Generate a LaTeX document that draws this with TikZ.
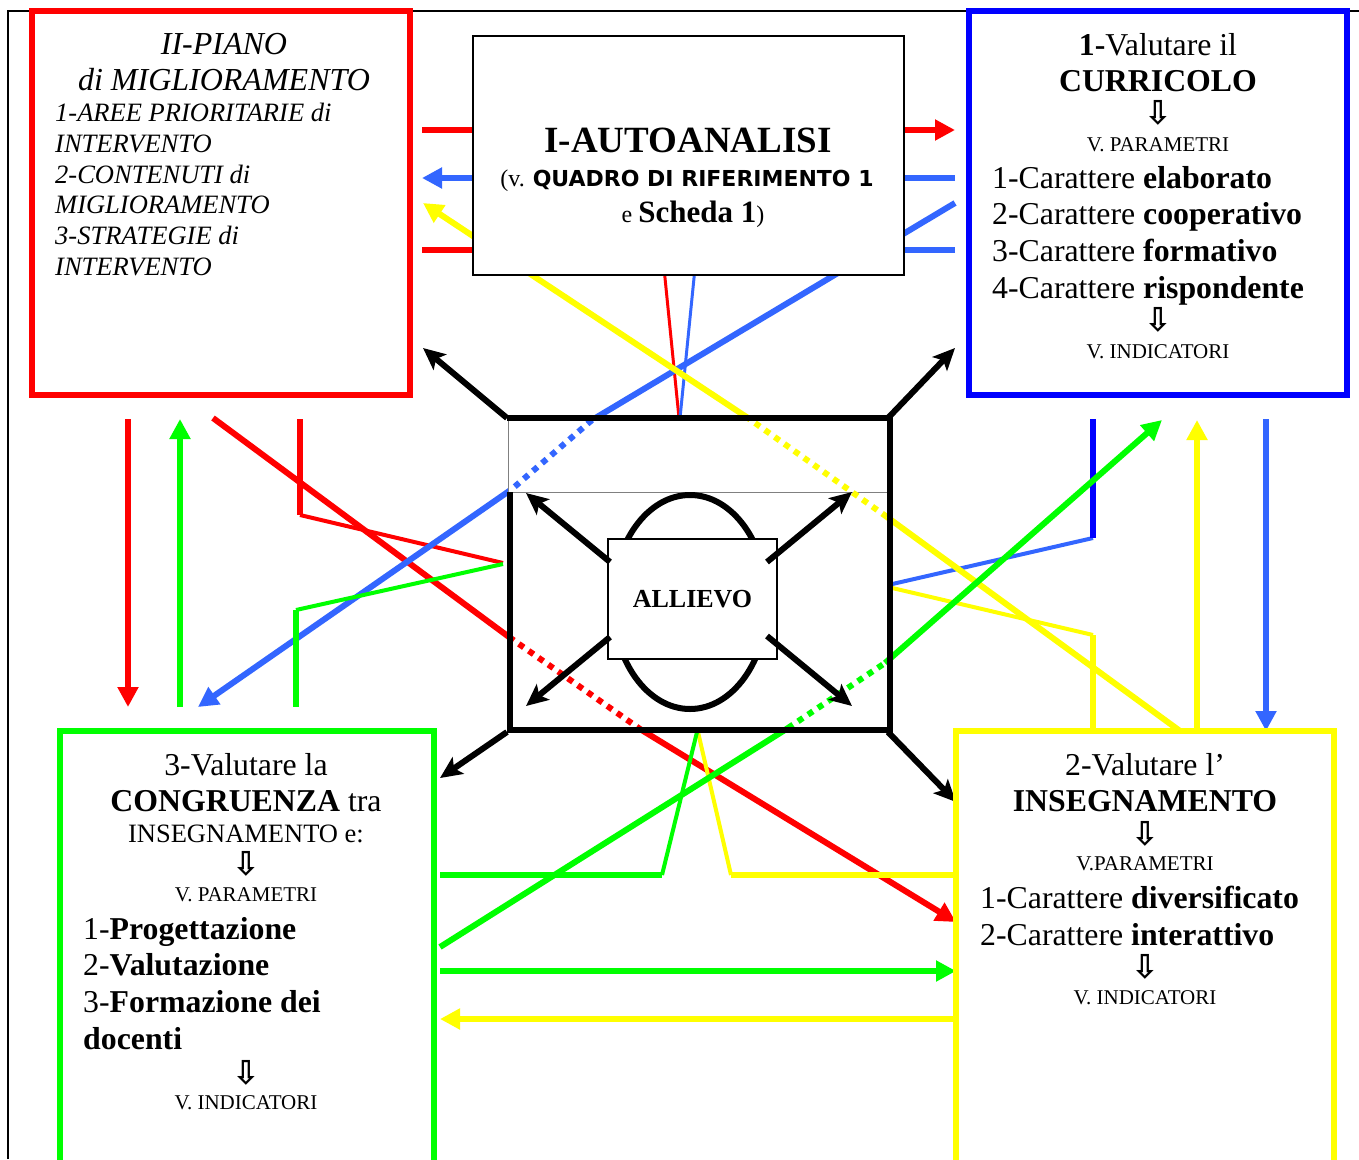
\documentclass[tikz,border=0pt]{standalone}
\usepackage{fontspec}
\setmainfont{Liberation Serif}
\newfontfamily\dejavu{DejaVu Sans}
\usetikzlibrary{arrows.meta}
\definecolor{redline}{RGB}{255,0,0}
\definecolor{greenline}{RGB}{0,255,0}
\definecolor{yellowline}{RGB}{255,255,0}
\definecolor{blueline}{RGB}{51,102,255}
\definecolor{bluebox}{RGB}{0,0,255}

\begin{document}
\begin{tikzpicture}
        [x=1pt, y=-1pt,
         box_style/.style={draw, line width=6pt, inner sep=0pt},
         thick_line/.style={line width=6pt},
         thin_line/.style={line width=4pt},
         hair_line/.style={line width=3pt},
         dot_line/.style={line width=6pt, dash pattern=on 6pt off 6pt},
         tip_col/.style={-{Triangle[length=20pt,width=20pt]}},
         tip_blk/.style={-{Stealth[length=22pt,width=20pt,inset=5pt]}},
         big_text/.style={inner sep=0pt, font=\fontsize{31.8}{36.7}\selectfont},
         small_text/.style={inner sep=0pt, font=\fontsize{21}{25}\selectfont},
         arrow_text/.style={inner sep=0pt, font=\dejavu\bfseries\fontsize{33}{36}\selectfont}]
            \useasboundingbox (0,0) rectangle (1359,1159);
            \clip (0,0) rectangle (1359,1159);
            \draw[line width=1.2pt] (8,1159) -- (8,11) -- (1359,11);

            % end points of the connectors
            \coordinate (ra1) at (422,130);  \coordinate (ra2) at (955,130);
            \coordinate (rb1) at (422,250);  \coordinate (rb2) at (520,250);
            \coordinate (rc1) at (664,268);  \coordinate (rc2) at (679,418);
            \coordinate (rd1) at (128,419);  \coordinate (rd2) at (128,707);
            \coordinate (re1) at (213,418);  \coordinate (re2) at (509,637);
            \coordinate (re3) at (640,729);  \coordinate (re4) at (956,922);
            \coordinate (rf1) at (300,419);  \coordinate (rf2) at (300,515);
            \coordinate (rf3) at (503,563);
            \coordinate (ba1) at (955,178);  \coordinate (ba2) at (422,178);
            \coordinate (bb1) at (955,250);  \coordinate (bb2) at (860,250);
            \coordinate (bc1) at (955,203);  \coordinate (bc2) at (592,420);
            \coordinate (bc3) at (512,489);  \coordinate (bc4) at (198,707);
            \coordinate (bd1) at (695,268);  \coordinate (bd2) at (680,418);
            \coordinate (be1) at (888,585);  \coordinate (be2) at (1093,538);
            \coordinate (be3) at (1093,419);
            \coordinate (bf1) at (1266,419); \coordinate (bf2) at (1266,731);
            \coordinate (ya1) at (1180,731); \coordinate (ya2) at (887,517);
            \coordinate (ya3) at (748,418);  \coordinate (ya4) at (423,203);
            \coordinate (yb1) at (888,587);  \coordinate (yb2) at (1093,635);
            \coordinate (yb3) at (1093,731);
            \coordinate (yc1) at (1197,731); \coordinate (yc2) at (1197,420);
            \coordinate (yd1) at (698,732);  \coordinate (yd2) at (731,875);
            \coordinate (yd3) at (956,875);
            \coordinate (ye1) at (956,1019); \coordinate (ye2) at (440,1019);
            \coordinate (ga1) at (180,707);  \coordinate (ga2) at (180,419);
            \coordinate (gb1) at (503,564);  \coordinate (gb2) at (296,610);
            \coordinate (gb3) at (296,707);
            \coordinate (gc1) at (440,947);  \coordinate (gc2) at (788,728);
            \coordinate (gc3) at (885,663);  \coordinate (gc4) at (1162,420);
            \coordinate (gd1) at (440,875);  \coordinate (gd2) at (662,875);
            \coordinate (gd3) at (697,732);
            \coordinate (ge1) at (440,971);  \coordinate (ge2) at (956,971);

            % solid coloured connectors
            \draw[thick_line, redline, tip_col]  (ra1) -- (ra2);
            \draw[thick_line, redline]  (rb1) -- (rb2);
            \draw[hair_line, redline]  (rc1) -- (rc2);
            \draw[thick_line, redline, tip_col]  (rd1) -- (rd2);
            \draw[thick_line, redline]  (re1) -- (re2);
            \draw[thick_line, redline, tip_col]  (re3) -- (re4);
            \draw[thick_line, redline]  (rf1) -- (rf2);
            \draw[thin_line, redline]  (rf2) -- (rf3);
            \draw[thick_line, blueline, tip_col]  (ba1) -- (ba2);
            \draw[thick_line, blueline]  (bb1) -- (bb2);
            \draw[thick_line, blueline]  (bc1) -- (bc2);
            \draw[thick_line, blueline, tip_col]  (bc3) -- (bc4);
            \draw[hair_line, blueline]  (bd1) -- (bd2);
            \draw[thin_line, blueline]  (be1) -- (be2);
            \draw[thick_line, bluebox]  (be2) -- (be3);
            \draw[thick_line, blueline, tip_col]  (bf1) -- (bf2);
            \draw[thick_line, yellowline]  (ya1) -- (ya2);
            \draw[thick_line, yellowline, tip_col]  (ya3) -- (ya4);
            \draw[thin_line, yellowline]  (yb1) -- (yb2);
            \draw[thick_line, yellowline]  (yb2) -- (yb3);
            \draw[thick_line, yellowline, tip_col]  (yc1) -- (yc2);
            \draw[thin_line, yellowline]  (yd1) -- (yd2);
            \draw[thick_line, yellowline]  (yd2) -- (yd3);
            \draw[thick_line, yellowline, tip_col]  (ye1) -- (ye2);
            \draw[thick_line, greenline, tip_col]  (ga1) -- (ga2);
            \draw[thin_line, greenline]  (gb1) -- (gb2);
            \draw[thick_line, greenline]  (gb2) -- (gb3);
            \draw[thick_line, greenline]  (gc1) -- (gc2);
            \draw[thick_line, greenline, tip_col]  (gc3) -- (gc4);
            \draw[thick_line, greenline]  (gd1) -- (gd2);
            \draw[thin_line, greenline]  (gd2) -- (gd3);
            \draw[thick_line, greenline, tip_col]  (ge1) -- (ge2);

            % I-AUTOANALISI
            \node[draw, line width=1.5pt, fill=white, minimum width=431pt, minimum height=239pt] (autoanalisi) at (688.5,155.5) {};
            \node[inner sep=0pt, font=\bfseries\fontsize{37}{40}\selectfont] (auto_title) at (688,140) {I-AUTOANALISI};
            \node[inner sep=0pt, anchor=base] (auto_quadro) at (687,186) {\fontsize{24}{28}\selectfont(v. {\dejavu\bfseries\fontsize{22}{26}\selectfont QUADRO DI RIFERIMENTO 1}};
            \node[inner sep=0pt, anchor=base] (auto_scheda) at (693,222) {\fontsize{24}{28}\selectfont e {\bfseries\fontsize{31}{36}\selectfont Scheda 1})};

            % centre: ALLIEVO
            \node[draw=gray, line width=1pt, fill=white, minimum width=379pt, minimum height=74pt, inner sep=0pt] (band) at (697.5,455) {};
            \draw[dot_line, redline]  (re2) -- (re3);
            \draw[dot_line, blueline]  (bc2) -- (bc3);
            \draw[dot_line, yellowline]  (ya2) -- (ya3);
            \draw[dot_line, greenline]  (gc2) -- (gc3);
            \coordinate (f1) at (507,418);  \coordinate (f2) at (890,418);
            \coordinate (f3) at (890,730);  \coordinate (f4) at (510,730);
            \coordinate (f5) at (510,492);
            \draw[thick_line]  (f1) -- (f2) -- (f3) -- (f4) -- (f5);
            \coordinate (ka) at (423,348);  \coordinate (kb) at (955,348);
            \coordinate (kc0) at (507,732); \coordinate (kc) at (440,778);
            \coordinate (kd0) at (888,732); \coordinate (kd) at (956,802);
            \coordinate (kb0) at (888,418);
            \draw[thick_line, tip_blk]  (f1) -- (ka);
            \draw[thick_line, tip_blk]  (kb0) -- (kb);
            \draw[thick_line, tip_blk]  (kc0) -- (kc);
            \draw[thick_line, tip_blk]  (kd0) -- (kd);
            \draw[thick_line] (690,602) ellipse [x radius=77pt, y radius=107pt];
            \node[draw, line width=1.5pt, fill=white, minimum width=169pt, minimum height=120pt, inner sep=0pt, font=\bfseries\fontsize{26}{30}\selectfont] (allievo) at (692.5,599) {ALLIEVO};
            \coordinate (ia1) at (610,562);  \coordinate (ia2) at (526,493);
            \coordinate (ib1) at (767,562);  \coordinate (ib2) at (852,492);
            \coordinate (ic1) at (610,637);  \coordinate (ic2) at (526,706);
            \coordinate (id1) at (767,636);  \coordinate (id2) at (852,706);
            \draw[thick_line, tip_blk]  (ia1) -- (ia2);
            \draw[thick_line, tip_blk]  (ib1) -- (ib2);
            \draw[thick_line, tip_blk]  (ic1) -- (ic2);
            \draw[thick_line, tip_blk]  (id1) -- (id2);

            % II-PIANO di MIGLIORAMENTO
            \node[box_style, draw=redline, minimum width=378pt, minimum height=384pt] (piano) at (221,203) {};
            \node[inner sep=0pt, anchor=north, align=center, font=\itshape\fontsize{32}{36}\selectfont] (piano_title) at (224,33.4) {II-PIANO\\di MIGLIORAMENTO};
            \node[inner sep=0pt, anchor=north west, align=left, font=\itshape\fontsize{26.5}{30.8}\selectfont] (piano_list) at (55,103) {1-AREE PRIORITARIE di\\INTERVENTO\\2-CONTENUTI di\\MIGLIORAMENTO\\3-STRATEGIE di\\INTERVENTO};

            % 1-Valutare il CURRICOLO
            \node[box_style, draw=bluebox, minimum width=378pt, minimum height=384pt] (curricolo) at (1158,203) {};
            \node[big_text, anchor=north, align=center] (curr_title) at (1158,33) {\textbf{1-}Valutare il\\\textbf{CURRICOLO}};
            \node[arrow_text] (curr_down1) at (1158,113) {⇩};
            \node[small_text] (curr_par) at (1158,145) {V. PARAMETRI};
            \node[big_text, anchor=north west, align=left] (curr_list) at (992,166) {1-Carattere \textbf{elaborato}\\2-Carattere \textbf{cooperativo}\\3-Carattere \textbf{formativo}\\4-Carattere \textbf{rispondente}};
            \node[arrow_text] (curr_down2) at (1158,320) {⇩};
            \node[small_text] (curr_ind) at (1158,352) {V. INDICATORI};

            % 2-Valutare l'INSEGNAMENTO
            \node[box_style, draw=yellowline, minimum width=378pt, minimum height=444pt] (insegnamento) at (1145,953) {};
            \node[big_text, anchor=north, align=center] (ins_title) at (1145,753) {2-Valutare l’\\\textbf{INSEGNAMENTO}};
            \node[arrow_text] (ins_down1) at (1145,834) {⇩};
            \node[small_text] (ins_par) at (1145,864) {V.PARAMETRI};
            \node[big_text, anchor=north west, align=left] (ins_list) at (980,886) {1-Carattere \textbf{diversificato}\\2-Carattere \textbf{interattivo}};
            \node[arrow_text] (ins_down2) at (1145,967) {⇩};
            \node[small_text] (ins_ind) at (1145,998) {V. INDICATORI};

            % 3-Valutare la CONGRUENZA
            \node[box_style, draw=greenline, minimum width=374pt, minimum height=444pt] (congruenza) at (247,953) {};
            \node[big_text, anchor=north, align=center] (cong_title) at (246,753) {3-Valutare la\\\textbf{CONGRUENZA} tra};
            \node[inner sep=0pt, font=\fontsize{26.5}{30}\selectfont] (cong_sub) at (246,834) {INSEGNAMENTO e:};
            \node[arrow_text] (cong_down1) at (246,864) {⇩};
            \node[small_text] (cong_par) at (246,895) {V. PARAMETRI};
            \node[big_text, anchor=north west, align=left] (cong_list) at (83,917) {1-\textbf{Progettazione}\\2-\textbf{Valutazione}\\3-\textbf{Formazione dei}\\\textbf{docenti}};
            \node[arrow_text] (cong_down2) at (246,1073) {⇩};
            \node[small_text] (cong_ind) at (246,1103) {V. INDICATORI};
        \end{tikzpicture}
\end{document}
